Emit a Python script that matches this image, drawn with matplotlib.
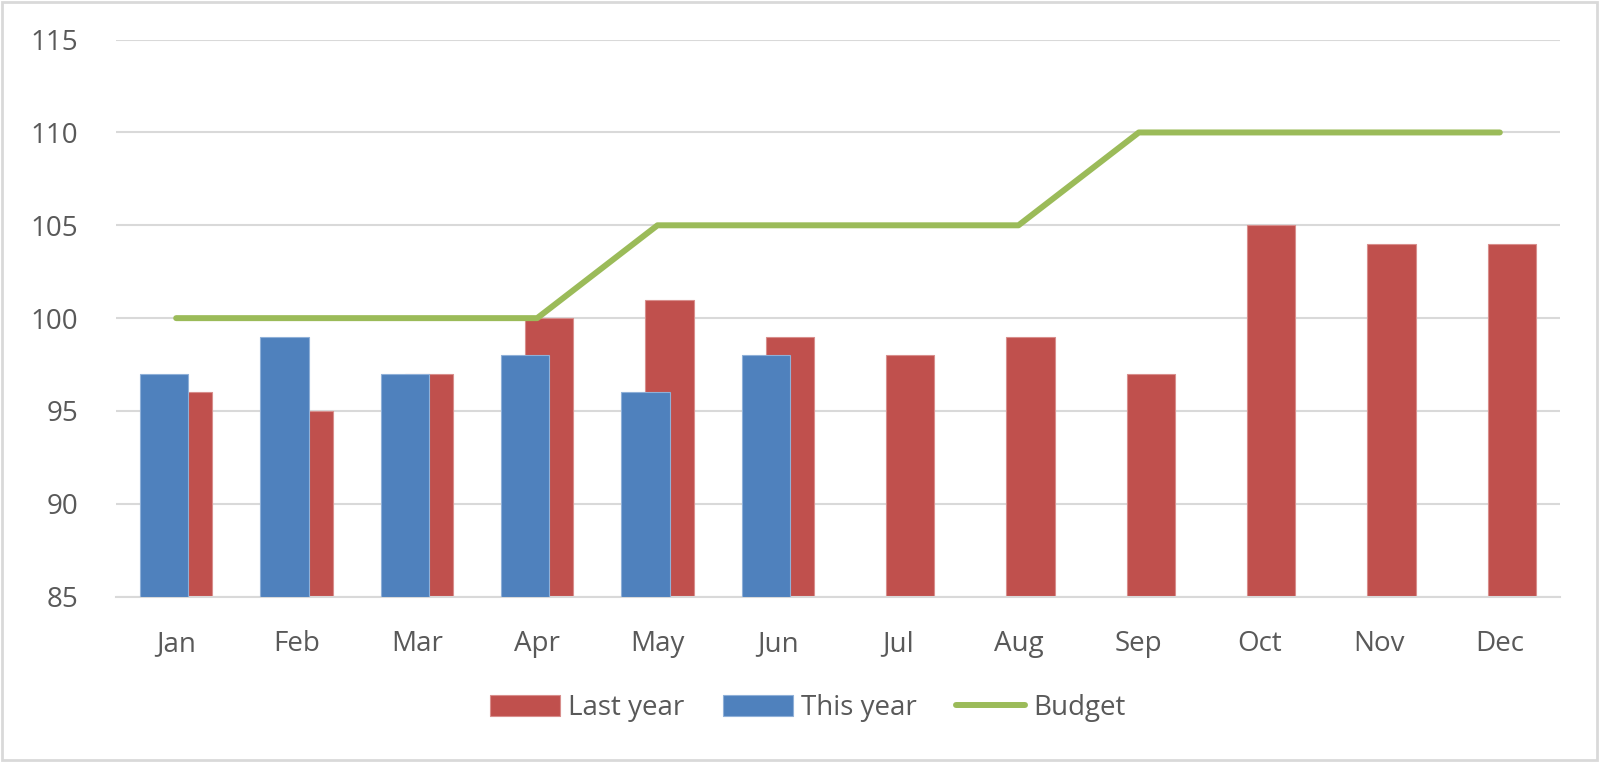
import matplotlib
matplotlib.use("Agg")
import matplotlib.pyplot as plt
import numpy as np

months = ["Jan", "Feb", "Mar", "Apr", "May", "Jun",
          "Jul", "Aug", "Sep", "Oct", "Nov", "Dec"]
last_year = [96, 95, 97, 100, 101, 99, 98, 99, 97, 105, 104, 104]
this_year = [97, 99, 97, 98, 96, 98]
budget = [100, 100, 100, 100, 105, 105, 105, 105, 110, 110, 110, 110]
yticks = [85, 90, 95, 100, 105, 110, 115]

RED = "#c0504d"
BLUE = "#4f81bd"
GREEN = "#9bbb59"
GRID = "#d9d9d9"
TEXT = "#595959"

plt.rcParams["font.family"] = ["Open Sans", "DejaVu Sans"]

fig = plt.figure(figsize=(16, 7.62), dpi=100)
ax = fig.add_axes([0.0725, 0.217, 0.9025, 0.731])

x = np.arange(len(months))
w = 0.4
red = ax.bar(x + 0.1, np.array(last_year) - 85, w, bottom=85, color=RED,
             edgecolor="#d88e8c", linewidth=0.8, label="Last year", zorder=2)
xt = np.arange(len(this_year))
blue = ax.bar(xt - 0.1, np.array(this_year) - 85, w, bottom=85, color=BLUE,
              edgecolor="#8fb0d8", linewidth=0.8, label="This year", zorder=3)
line, = ax.plot(x, budget, color=GREEN, lw=4.3, solid_capstyle="round",
                label="Budget", zorder=4)

ax.set_xlim(-0.5, 11.5)
ax.set_ylim(85, 115)
ax.set_yticks(yticks)
ax.set_xticks(x)
ax.set_xticklabels(months)
ax.yaxis.grid(True, color=GRID, lw=1.5, zorder=0)
ax.set_axisbelow(True)
for s in ["top", "right", "left"]:
    ax.spines[s].set_visible(False)
ax.spines["bottom"].set_color(GRID)
ax.spines["bottom"].set_linewidth(1.5)
ax.tick_params(axis="both", length=0, labelsize=20, colors=TEXT)
ax.tick_params(axis="x", pad=24)
ax.tick_params(axis="y", pad=27)

leg = fig.legend([red, blue, line], ["Last year", "This year", "Budget"],
                 loc="center", bbox_to_anchor=(0.505, 0.071), ncol=3,
                 frameon=False, fontsize=20, handlelength=2.5,
                 handleheight=0.8, handletextpad=0.3, columnspacing=1.4)
for t in leg.get_texts():
    t.set_color(TEXT)

# light frame round the chart area
fig.patches.append(plt.Rectangle((0.001, 0.002), 0.997, 0.995,
                                 transform=fig.transFigure, fill=False,
                                 edgecolor=GRID, lw=2))

fig.savefig("out.png", dpi=100, facecolor="white")
